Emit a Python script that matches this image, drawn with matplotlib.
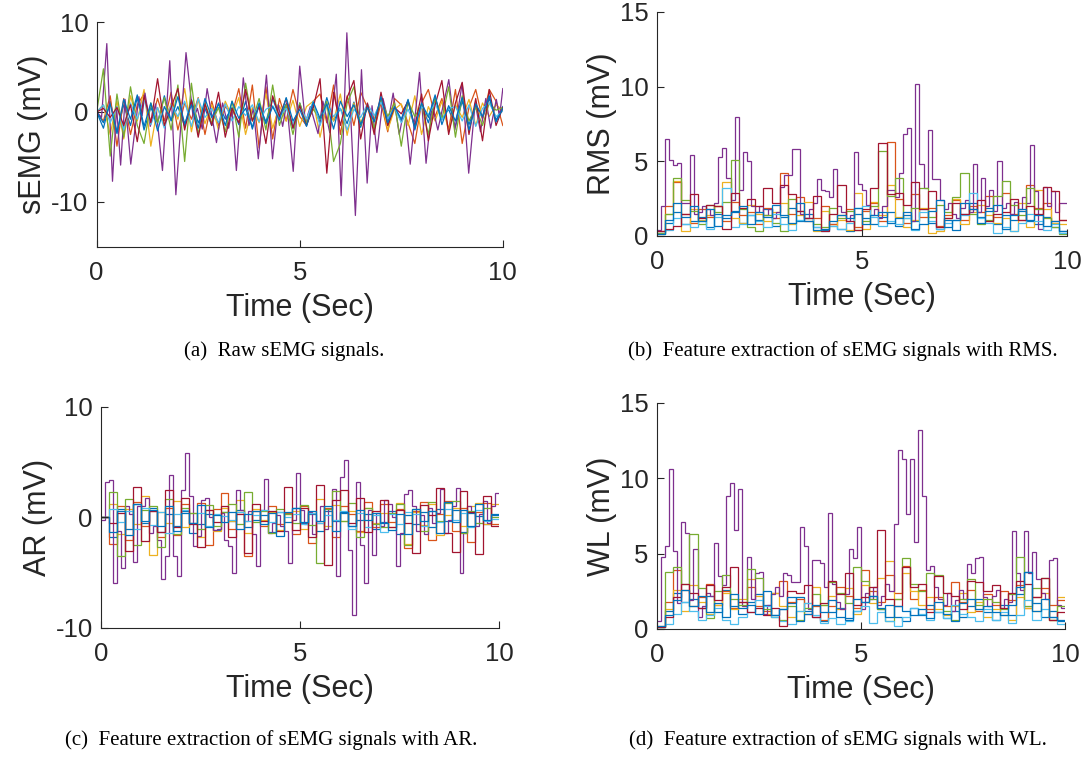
import numpy as np
import matplotlib
matplotlib.use("Agg")
import matplotlib.pyplot as plt

# ------- #
# SETTINGS #
# ------- #

plt.rcParams["font.family"] = ["Liberation Sans", "DejaVu Sans"]
plt.rcParams["axes.unicode_minus"] = False

# MATLAB default colour order, 8 channels (8th wraps to blue again)
COLORS = ["#0072BD", "#D95319", "#EDB120", "#7E2F8E",
          "#77AC30", "#4DBEEE", "#A2142F", "#0072BD"]
AX_COL = "#262626"

# -------------------------- #
# DATA #
# -------------------------- #

# --- raw sEMG, channel 4 (purple) given with its own time stamps --- #
raw_t_ch4 = [0, 0.12, 0.25, 0.39, 0.49, 0.59, 0.70, 0.84, 1.04, 1.12, 1.19, 1.32, 1.45,
             1.62, 1.80, 1.95, 2.20, 2.38, 2.48, 2.60, 2.72, 2.95, 3.10, 3.25, 3.33, 3.44,
             3.61, 3.75, 3.86, 3.98, 4.18, 4.33, 4.47, 4.58, 4.68, 4.84, 5.00, 5.14, 5.26,
             5.45, 5.57, 5.74, 5.90, 6.02, 6.16, 6.37, 6.52, 6.66, 6.78, 6.90, 7.05, 7.18,
             7.30, 7.45, 7.58, 7.72, 7.95, 8.11, 8.26, 8.40, 8.67, 8.82, 9.00, 9.16, 9.32,
             9.45, 9.58, 9.70, 9.84, 9.92, 10.0]
raw_v_ch4 = [0, -0.6, 7.6, -7.7, 0.6, -5.9, 1.4, -5.8, 1.7, -0.4, 2.1, -1.6, 0.9,
             -6.5, 5.7, -9.2, 6.6, -0.8, 0.4, -1.9, 2.6, -3.4, 1.0, -1.8, 0.2, -6.5,
             3.8, -1.5, 0.4, -5.2, 4.1, -5.2, 0.8, -1.6, 1.0, -6.6, 5.1, -1.2, 0.6,
             -2.4, 1.2, -2.3, 4.2, -9.3, 8.8, -11.5, 4.7, -7.9, 0.7, -4.5, 1.5, -1.0,
             2.1, -2.5, 0.5, -5.8, 4.4, -5.7, 0.8, -2.0, 3.6, -2.0, 3.2, -6.8, 1.0,
             -2.2, 1.5, -1.8, 1.4, -0.5, 2.6]

# other channels: evenly spaced samples over 0-10 s
raw_ch1 = [0, -1.8, 1.2, -2.2, 0.8, -1.5, 1.6, -2.0, 0.5, -1.2, 1.8, -1.0, 0.6, -1.6, 1.4,
           -1.2, 0.4, -1.5, 1.0, -0.8, 0.5, -1.4, 1.2, -1.9, 0.8, -1.1, 1.5, -0.6, 0.9, -1.8,
           1.0, -1.4, 0.7, -1.2, 1.6, -1.0, 0.4, -1.3, 1.1, -1.7, 0.6, -0.9, 1.3, -1.5, 0.5,
           -1.0, 1.4, -2.0, 0.9, -1.2, 1.6, -0.8, 0.3, -1.6, 1.2, -1.4, 0.8, -0.7, 1.5, -0.9, 0.6]
raw_ch2 = [0, -1.0, 1.8, -3.8, 1.5, -2.5, 0.8, 2.0, -1.2, 1.5, -1.0, 2.2, -2.0, 1.0, -0.8,
           1.6, -2.5, 1.2, -1.5, 0.6, -0.3, 2.6, -1.8, 3.0, -4.0, 2.8, -3.0, 1.5, -1.0, 2.5,
           -0.5, -1.5, 1.2, 2.0, -1.2, 3.0, -2.5, 1.8, -1.5, 2.2, 0.5, -2.0, 1.0, -2.2, 1.5,
           0.8, -1.2, -3.5, 1.0, 2.5, -0.5, 1.5, -2.0, 2.5, -3.5, 0.5, 2.5, -0.8, 2.5, 1.2, -1.5]
raw_ch3 = [0, 0.8, -2.5, 1.2, -3.0, 1.8, -1.0, 2.5, -3.8, 0.5, -1.5, 1.0, -0.8, 2.6, -2.2,
           1.5, -1.3, 0.8, -2.0, 1.2, -0.5, 1.6, -2.5, 0.5, -1.2, 2.0, -1.8, 0.7, -1.0, 1.3,
           -1.6, 0.6, 1.2, -2.8, 0.8, -1.0, 2.0, -2.6, 1.0, -1.2, 0.5, -0.8, 1.5, -2.0, 0.3,
           0.9, -1.5, 1.8, -2.5, 0.6, -1.0, 1.2, -2.2, 0.8, -0.6, 1.4, -1.5, 1.0, -0.5, 0.8, 0.2]
raw_ch5 = [0, 4.8, -4.9, 2.0, -2.8, 2.8, -1.5, -3.5, 1.0, -1.2, 1.6, -2.0, 3.0, -5.5, 3.2,
           -2.5, 1.0, -1.2, 0.5, -2.2, 1.2, -2.8, 3.2, -1.0, 1.5, -2.0, 3.0, -1.5, 0.8, -2.5,
           1.0, -1.2, 0.3, -0.8, 1.2, -5.5, -3.5, 1.0, 2.8, -1.5, 0.8, -1.8, 1.5, -0.5, 1.0,
           -3.8, 1.2, -0.5, 0.8, -2.5, 1.5, -0.8, 2.8, -2.8, 1.8, -1.0, 0.5, -1.5, 1.0, 0.2, 0.5]
raw_ch6 = [0, 0.8, -1.2, 0.6, -2.0, 1.0, -0.8, 1.5, -1.4, 0.5, -1.8, 0.8, -0.5, 1.2, -1.6,
           1.5, -0.6, 0.4, -1.2, 0.9, -1.0, 0.6, -0.4, 0.8, -1.1, 0.3, 0.7, -0.5, 0.4, -1.3,
           0.6, -0.8, 1.2, -1.5, 0.8, -0.5, 0.4, -2.0, 0.3, -0.6, 0.9, -0.4, 1.1, -0.8, 0.5,
           -1.2, 0.3, -1.4, 0.6, -0.3, 1.0, -0.9, 0.4, 0.6, -1.0, 0.8, -1.6, 0.4, 1.0, -0.5, 0.1]
raw_ch7 = [0, 0.4, -0.6, 0.5, -1.5, 0.8, -3.3, 1.8, -1.2, 3.7, -1.5, 0.5, 2.6, -2.0, 1.3,
           -2.8, 0.9, -1.5, 2.2, -2.8, 0.4, -1.2, 2.5, -1.0, 0.6, -3.5, 1.8, -0.5, 1.5, -1.8,
           0.7, -1.5, 0.5, 3.7, -6.8, 2.2, -1.5, 1.6, 3.5, -3.0, 1.0, -2.5, 2.2, -1.5, 0.5,
           -0.2, 1.2, -1.6, 2.0, -3.2, 0.8, 3.5, -2.5, 1.0, 3.3, -2.5, 1.5, -3.2, 2.5, -1.5, 0.5]
raw_ch8 = [0, -1.2, 0.9, -2.4, 1.4, -0.8, 1.9, -1.6, 1.0, -2.1, 0.6, -0.9, 1.7, -1.3, 0.8,
           -1.8, 1.5, -0.6, 0.9, -1.5, 1.2, -0.7, 0.4, -1.7, 1.0, -1.3, 0.6, -0.9, 1.6, -1.0,
           0.3, -1.6, 1.1, -0.7, 0.9, -1.9, 1.2, -0.5, 0.8, -1.4, 0.5, -1.1, 1.7, -1.2, 0.6,
           -0.8, 1.3, -1.8, 1.0, -0.6, 1.9, -1.4, 0.7, -1.0, 1.6, -2.0, 0.9, -0.5, 1.8, -1.1, 0.4]

# --- RMS, purple in 0.1 s windows, others in 0.2 s windows --- #
rms_ch4 = [0.4, 2.0, 6.5, 5.1, 4.75, 4.9, 2.2, 2.2, 5.4, 1.5,
           1.6, 2.0, 1.8, 1.4, 2.2, 5.3, 5.9, 3.9, 2.4, 8.0,
           3.1, 5.6, 5.0, 2.0, 1.6, 2.0, 1.4, 1.8, 1.2, 1.6,
           3.3, 4.1, 4.1, 5.8, 5.8, 1.5, 1.2, 1.8, 2.2, 3.8,
           3.1, 3.0, 2.6, 4.5, 2.0, 1.6, 1.0, 1.4, 5.6, 3.5,
           3.1, 2.1, 1.4, 1.8, 1.2, 2.0, 3.1, 3.1, 2.6, 4.2,
           6.8, 7.25, 1.0, 10.15, 4.8, 3.2, 7.1, 3.8, 3.8, 2.4,
           1.8, 2.2, 1.5, 1.2, 1.9, 2.4, 1.6, 4.8, 1.6, 3.9,
           2.0, 3.1, 1.7, 5.0, 1.9, 2.2, 1.5, 2.3, 1.8, 2.6,
           2.2, 6.1, 3.0, 0.5, 3.3, 2.0, 3.0, 1.6, 2.2, 2.2]
rms_ch1 = [0.2, 0.9, 1.6, 0.8, 1.0, 1.3, 0.6, 1.5, 1.2, 1.7, 0.9, 1.4, 1.1, 1.8, 0.7, 1.3, 1.9,
           1.0, 1.5, 0.6, 0.4, 0.8, 0.5, 0.3, 1.5, 1.2, 0.8, 1.3, 1.6, 0.7, 1.4, 1.0, 1.8, 0.9,
           0.5, 1.1, 0.4, 1.5, 2.2, 1.3, 1.9, 0.8, 1.4, 1.1, 1.7, 1.0, 0.8, 1.3, 0.6, 0.3]
rms_ch2 = [0.3, 2.0, 3.6, 1.5, 0.9, 1.8, 1.3, 2.0, 1.0, 2.3, 1.4, 1.6, 0.8, 1.9, 1.2, 4.2, 1.5,
           2.6, 1.0, 1.2, 2.0, 0.8, 1.4, 1.8, 0.6, 1.7, 2.2, 1.0, 6.3, 2.5, 0.9, 2.8, 1.3, 1.9,
           0.7, 1.4, 2.4, 1.1, 2.0, 1.6, 2.7, 1.3, 2.9, 1.5, 1.1, 3.4, 1.9, 2.2, 1.0, 1.1]
rms_ch3 = [0.1, 1.5, 3.7, 0.3, 1.8, 1.1, 1.4, 2.0, 3.6, 1.2, 0.9, 2.1, 1.5, 1.0, 1.6, 2.2, 0.8,
           1.4, 2.3, 0.3, 1.7, 0.7, 1.1, 0.4, 2.9, 0.5, 2.3, 1.4, 3.4, 1.3, 0.6, 1.1, 1.9, 0.2,
           0.3, 1.2, 2.5, 0.8, 1.6, 2.1, 1.4, 0.9, 1.2, 0.3, 2.2, 0.6, 3.1, 1.8, 0.9, 0.8]
rms_ch5 = [0.2, 1.5, 3.9, 2.4, 1.7, 0.8, 2.1, 1.6, 2.3, 5.1, 1.8, 0.6, 0.3, 1.4, 0.9, 0.3, 2.5,
           1.7, 1.2, 0.8, 0.6, 1.9, 1.2, 1.7, 0.4, 1.0, 2.0, 5.7, 2.7, 3.9, 1.2, 1.9, 3.2, 1.3,
           2.1, 1.6, 2.6, 4.2, 1.5, 0.8, 1.1, 2.7, 3.7, 2.1, 1.4, 3.2, 1.8, 1.2, 0.6, 0.1]
rms_ch6 = [0.1, 0.4, 1.2, 0.8, 0.6, 1.0, 0.5, 1.3, 3.2, 0.6, 0.8, 1.4, 1.0, 0.6, 1.5, 0.8, 0.4,
           1.1, 1.2, 0.6, 0.3, 0.7, 0.5, 0.9, 1.9, 2.0, 1.3, 0.7, 1.0, 0.8, 1.2, 0.4, 1.6, 1.0,
           0.5, 0.9, 1.1, 1.4, 2.9, 1.2, 0.9, 0.2, 0.6, 0.3, 0.9, 1.5, 1.0, 0.4, 0.8, 0.2]
rms_ch7 = [0.3, 0.5, 0.7, 1.5, 2.8, 1.2, 2.1, 2.0, 0.5, 2.9, 1.9, 2.5, 2.0, 3.2, 2.2, 3.4, 2.8,
           1.7, 1.2, 2.7, 0.3, 1.5, 3.4, 1.0, 0.4, 1.8, 3.2, 6.2, 2.8, 2.9, 2.1, 3.6, 1.8, 3.0,
           0.6, 1.2, 2.2, 1.5, 1.8, 2.4, 1.0, 1.5, 1.6, 2.5, 1.1, 2.0, 1.5, 3.3, 3.0, 1.1]
rms_ch8 = [0.1, 1.1, 2.2, 1.3, 2.0, 1.0, 1.8, 0.7, 1.4, 1.6, 2.0, 0.8, 1.6, 1.3, 2.1, 1.4, 0.9,
           2.2, 1.0, 0.4, 0.5, 1.0, 1.4, 1.2, 1.9, 0.8, 1.4, 1.6, 0.9, 1.2, 1.6, 0.5, 0.8, 1.7,
           2.4, 0.6, 1.1, 2.2, 1.8, 0.9, 1.7, 2.1, 0.5, 1.4, 1.8, 1.1, 1.4, 0.7, 1.0, 0.3]

# --- AR --- #
ar_ch4 = [-0.2, 3.2, 3.4, -5.9, -1.2, -4.6, 1.0, 0.3, -4.0, 1.0,
          1.0, 1.8, -1.4, -0.8, -2.0, -5.6, -3.5, 3.8, -3.5, -5.3,
          2.5, 5.8, 1.9, -2.6, -1.7, 1.6, 1.8, 0.0, -1.1, -1.0,
          0.4, -2.0, -2.6, -5.0, 2.5, 0.7, -0.3, 0.6, -1.5, -4.4,
          0.7, 3.5, -1.4, -0.5, 0.2, -0.8, -1.2, -4.1, -0.2, 4.0,
          0.7, -0.6, 0.5, -1.5, -0.3, 1.0, -1.0, 0.8, 2.6, -5.3,
          3.7, 5.2, -2.9, -8.8, 3.2, -2.5, -5.9, 0.7, -3.4, 0.4,
          -0.8, 1.6, 1.2, 0.0, -4.4, -1.4, 2.1, 2.5, 1.0, -1.2,
          0.2, -1.5, 0.9, -0.5, 0.4, 2.6, -1.4, -0.2, 1.0, 2.7,
          -5.0, -1.4, 1.0, 0.5, -0.8, 0.3, 1.5, -0.5, 1.0, 2.2]
ar_ch1 = [0, -1.8, 0.8, -1.0, 1.2, -0.5, 0.9, -1.3, 0.3, -0.8, 0.6, -1.4, -0.6, 0.3, -1.1, 0.5,
          -0.3, 0.7, -0.9, -0.2, 0.2, -1.3, 0.5, -0.4, 0.9, -0.5, 0.3, -1.2, 0.6, -0.3, 0.4, -0.8,
          -0.2, 0.3, -1.0, -0.4, 0.6, -1.5, 0.2, -0.6, 0.5, -0.9, 0.8, -0.3, 0.7, -1.3, 0.4, 0.1,
          -0.6, 0.2]
ar_ch2 = [0, -2.4, 1.0, -2.0, 1.4, -0.8, 0.6, -1.8, 0.9, -1.6, 1.2, -0.5, 1.3, -2.5, 0.8, 2.2,
          -1.0, 0.5, -3.5, 0.6, -0.8, 1.0, -0.6, 0.4, -1.5, 1.0, -2.3, -0.5, 0.9, -1.8, 1.0, 0.3,
          -1.2, 1.4, -0.9, 1.2, -0.4, 0.8, -2.8, 0.6, 1.4, -2.0, 0.3, 1.5, -1.2, 0.9, -2.2, 0.5,
          1.3, -0.6]
ar_ch3 = [0, 1.2, -1.5, 0.8, -0.6, 1.9, -3.4, 0.5, -0.5, 1.5, -0.9, 0.4, -1.8, 0.7, -1.2, 0.9,
          -0.3, 1.6, -1.4, 0.8, -0.2, 0.5, -1.1, 0.3, 0.6, -1.0, 0.4, 1.7, -0.8, 1.1, -0.3, 0.6,
          -1.3, 0.9, -0.5, 0.4, -0.9, 1.3, -2.4, 0.5, -0.7, 1.2, -1.6, 0.2, 0.9, -0.8, 1.0, 1.3,
          -0.6, 1.2]
ar_ch5 = [0, 2.3, -3.5, 1.7, -2.5, 0.7, 1.0, -2.7, 1.7, -1.5, 0.9, 0.4, -1.0, 1.1, -0.8, 0.5,
          1.2, -0.6, 2.3, -0.4, 0.6, -1.4, 0.8, 0.3, -0.5, 1.1, -0.7, -4.1, 0.8, 2.4, -0.3, 1.3,
          -1.8, 0.9, -0.6, -0.9, 0.4, 1.2, -2.5, 0.8, -1.2, 1.4, -0.3, 1.3, 1.5, -1.4, 0.6, -0.5,
          0.9, 0.0]
ar_ch6 = [0, 0.8, -0.4, 0.6, -1.0, 0.9, -0.7, 0.5, -1.4, 0.3, 0.7, -0.5, 0.4, -0.8, 0.3, 0.1,
          -0.2, 0.5, -0.3, 0.2, 0.7, -0.4, 0.5, 0.0, 0.3, -0.6, 0.4, -0.5, 0.2, -0.2, 0.6, -1.0,
          0.4, -0.9, 0.2, -1.3, 0.3, -0.6, 0.5, 0.3, -0.8, 0.6, -0.4, 0.8, -0.2, 0.4, -0.9, 0.7,
          -0.3, -0.1]
ar_ch7 = [0, -0.5, 0.4, -3.0, 2.8, -2.1, 0.6, -1.3, 2.5, -0.9, 1.8, -0.6, -2.7, 0.7, -0.4, 1.0,
          -1.8, 0.3, -3.2, 1.2, -0.3, 0.6, -1.2, 2.8, -1.1, 0.9, -1.8, 2.9, -4.3, 1.6, 2.5, -0.5,
          1.8, -1.3, 0.6, 1.6, -0.9, 0.7, -0.5, -3.2, 1.1, 0.2, 2.7, -1.4, -3.1, 2.4, 0.5, -3.3,
          1.9, -0.8]
ar_ch8 = [0, -1.3, 0.6, -1.6, 1.2, -0.3, 0.7, -0.8, 1.0, -1.2, 0.4, -0.5, 1.1, -0.9, 0.2, -0.4,
          0.5, -1.0, 0.3, 0.6, -0.6, 0.4, -1.7, 0.5, 0.9, -0.4, 0.6, -0.3, 1.0, -1.2, 0.5, -0.8,
          0.7, -0.2, 0.4, -0.5, -1.1, 0.3, -1.5, 0.8, -0.3, 0.6, -1.4, 1.4, -0.4, 0.7, -0.8, 1.2,
          -0.2, 0.3]

# --- WL --- #
wl_ch4 = [0.5, 4.8, 5.5, 10.6, 5.2, 1.7, 7.1, 6.4, 1.9, 5.3,
          0.8, 1.5, 2.4, 2.2, 5.7, 3.5, 2.9, 8.8, 9.7, 6.6,
          9.3, 1.5, 4.8, 2.0, 3.7, 3.8, 1.0, 1.6, 2.3, 2.8,
          2.2, 3.7, 3.6, 3.1, 3.1, 6.8, 5.5, 1.3, 4.6, 4.6,
          4.4, 2.8, 7.7, 3.0, 1.8, 1.3, 2.3, 5.3, 4.7, 6.8,
          1.3, 2.4, 2.0, 2.8, 1.6, 2.2, 3.0, 2.5, 7.0, 11.9,
          11.3, 7.6, 11.3, 5.8, 13.2, 8.8, 3.9, 4.2, 2.8, 2.0,
          1.6, 2.4, 1.2, 1.9, 2.6, 2.0, 4.3, 3.7, 4.7, 4.8,
          2.1, 1.5, 2.2, 2.6, 1.4, 2.0, 1.8, 6.5, 3.7, 2.6,
          6.5, 3.7, 5.1, 3.3, 2.4, 2.0, 4.6, 4.7, 1.6, 1.4]
wl_ch1 = [0.1, 1.2, 2.4, 1.8, 2.0, 1.4, 2.2, 1.1, 2.6, 1.5, 1.0, 1.8, 2.3, 1.6, 0.9, 1.3, 1.7,
          2.1, 1.2, 0.8, 0.5, 1.1, 1.4, 0.7, 1.2, 1.8, 2.2, 1.3, 1.6, 0.8, 0.5, 1.4, 0.9, 1.6,
          1.1, 0.7, 1.2, 0.8, 1.5, 2.0, 1.1, 0.6, 1.6, 0.9, 2.3, 3.8, 1.7, 0.8, 1.2, 0.5]
wl_ch2 = [0.2, 1.8, 3.9, 2.6, 1.5, 2.1, 3.0, 1.6, 2.5, 1.4, 1.8, 2.8, 1.5, 1.2, 2.4, 3.2, 1.8,
          2.0, 1.0, 1.5, 0.6, 1.5, 2.8, 2.2, 1.4, 3.9, 2.5, 1.8, 3.6, 2.4, 4.2, 2.0, 2.6, 1.3,
          2.1, 1.5, 3.1, 1.8, 2.6, 1.2, 2.3, 1.6, 2.5, 1.9, 2.9, 1.4, 2.1, 2.7, 1.6, 1.9]
wl_ch3 = [0.1, 1.3, 2.6, 1.2, 2.9, 1.8, 1.0, 1.6, 2.4, 1.3, 2.0, 3.3, 2.2, 1.0, 2.4, 1.5, 0.8,
          1.2, 1.7, 2.8, 1.6, 2.2, 1.3, 2.7, 1.0, 2.9, 1.7, 3.4, 4.5, 2.0, 3.7, 2.5, 1.6, 2.1,
          1.3, 0.9, 1.5, 2.4, 1.1, 1.8, 0.8, 1.3, 0.9, 0.6, 2.1, 1.4, 1.2, 2.4, 0.6, 2.1]
wl_ch5 = [0.1, 3.8, 4.1, 3.0, 6.3, 2.7, 0.7, 2.5, 3.6, 2.0, 1.6, 4.0, 3.4, 1.3, 0.8, 0.6, 1.5,
          0.6, 1.4, 2.3, 1.6, 3.1, 2.4, 1.7, 4.1, 3.2, 2.0, 1.3, 0.5, 2.0, 4.7, 3.0, 2.5, 3.7,
          3.6, 1.2, 0.6, 2.0, 3.3, 1.6, 2.0, 1.8, 1.3, 2.3, 4.8, 1.5, 2.7, 3.4, 0.6, 1.5]
wl_ch6 = [0.1, 0.3, 1.0, 1.8, 1.2, 0.6, 0.9, 1.4, 0.6, 0.3, 0.8, 1.1, 1.9, 1.5, 0.8, 0.5, 0.3,
          1.2, 1.7, 0.9, 0.4, 0.7, 0.3, 0.5, 1.2, 1.5, 0.4, 1.1, 0.5, 0.2, 0.8, 1.4, 1.0, 0.6,
          1.1, 0.7, 1.6, 1.0, 0.8, 0.5, 1.3, 0.6, 1.1, 0.4, 0.9, 1.9, 0.6, 1.3, 0.8, 0.3]
wl_ch7 = [0.1, 0.8, 2.1, 3.0, 2.4, 1.4, 2.9, 1.9, 2.8, 4.1, 1.8, 1.1, 1.4, 0.9, 1.4, 0.2, 2.5,
          2.4, 2.9, 0.8, 1.7, 3.2, 2.3, 3.7, 1.6, 2.1, 2.8, 6.6, 2.0, 1.5, 4.1, 2.8, 3.0, 1.1,
          3.5, 2.4, 2.2, 1.3, 3.2, 3.1, 2.5, 2.9, 1.4, 2.4, 3.2, 3.0, 2.1, 3.4, 0.6, 1.1]
wl_ch8 = [0.2, 0.9, 1.9, 2.6, 1.5, 2.2, 1.1, 1.7, 0.8, 2.3, 1.4, 1.6, 1.0, 2.5, 0.9, 1.3, 2.1,
          0.5, 1.0, 1.6, 1.1, 1.9, 0.8, 0.6, 2.0, 1.8, 2.2, 1.4, 0.8, 1.5, 1.2, 0.9, 1.3, 0.7,
          1.8, 1.0, 0.5, 1.7, 2.0, 1.3, 1.5, 1.1, 0.9, 1.6, 2.8, 3.8, 1.2, 2.0, 0.8, 0.6]

RAW = [raw_ch1, raw_ch2, raw_ch3, None, raw_ch5, raw_ch6, raw_ch7, raw_ch8]
RMS = [rms_ch1, rms_ch2, rms_ch3, rms_ch4, rms_ch5, rms_ch6, rms_ch7, rms_ch8]
AR = [ar_ch1, ar_ch2, ar_ch3, ar_ch4, ar_ch5, ar_ch6, ar_ch7, ar_ch8]
WL = [wl_ch1, wl_ch2, wl_ch3, wl_ch4, wl_ch5, wl_ch6, wl_ch7, wl_ch8]

T_END = 10.0
TICK_FS = 18.5
LABEL_FS = 22
CAP_FS = 15


# --------- #
# FUNCTIONS #
# --------- #

def style_axes(ax, ylim, yticks, ylabel):
    ax.set_xlim(0, T_END)
    ax.set_ylim(*ylim)
    ax.set_xticks([0, 5, 10])
    ax.set_yticks(yticks)
    for s in ("top", "right"):
        ax.spines[s].set_visible(False)
    for s in ("left", "bottom"):
        ax.spines[s].set_color(AX_COL)
        ax.spines[s].set_linewidth(0.8)
    ax.tick_params(direction="in", length=5, width=0.8, colors=AX_COL,
                   labelsize=TICK_FS, pad=6)
    ax.tick_params(axis="x", pad=10)
    ax.set_xlabel("Time (Sec)", fontsize=LABEL_FS, color=AX_COL, labelpad=6)
    ax.set_ylabel(ylabel, fontsize=LABEL_FS, color=AX_COL, labelpad=2)


def plot_steps(ax, channels):
    for vals, col in zip(channels, COLORS):
        edges = np.linspace(0, T_END, len(vals) + 1)
        ax.stairs(vals, edges, baseline=None, color=col, lw=0.9)


# ---- #
# MAIN #
# ---- #

fig = plt.figure(figsize=(10.86, 7.59), dpi=100)

ax_a = fig.add_axes([0.089, 0.6746, 0.374, 0.2964])
ax_b = fig.add_axes([0.6047, 0.6891, 0.378, 0.2951])
ax_c = fig.add_axes([0.0930, 0.1726, 0.3668, 0.2912])
ax_d = fig.add_axes([0.6047, 0.1713, 0.376, 0.2978])

# (a) raw
for i, (vals, col) in enumerate(zip(RAW, COLORS)):
    if i == 3:
        ax_a.plot(raw_t_ch4, raw_v_ch4, color=col, lw=0.9)
    else:
        ax_a.plot(np.linspace(0, T_END, len(vals)), vals, color=col, lw=0.9)
style_axes(ax_a, (-15, 10), [-10, 0, 10], "sEMG (mV)")

# (b) RMS
plot_steps(ax_b, RMS)
style_axes(ax_b, (0, 15), [0, 5, 10, 15], "RMS (mV)")

# (c) AR
plot_steps(ax_c, AR)
style_axes(ax_c, (-10, 10), [-10, 0, 10], "AR (mV)")

# (d) WL
plot_steps(ax_d, WL)
style_axes(ax_d, (0, 15), [0, 5, 10, 15], "WL (mV)")

cap_kw = dict(fontsize=CAP_FS, family=["Liberation Serif", "DejaVu Serif"],
              ha="center", va="center", color="black")
fig.text(0.262, 0.538, "(a)  Raw sEMG signals.", **cap_kw)
fig.text(0.776, 0.538, "(b)  Feature extraction of sEMG signals with RMS.", **cap_kw)
fig.text(0.250, 0.025, "(c)  Feature extraction of sEMG signals with AR.", **cap_kw)
fig.text(0.772, 0.025, "(d)  Feature extraction of sEMG signals with WL.", **cap_kw)

fig.savefig("out.png", dpi=100)
